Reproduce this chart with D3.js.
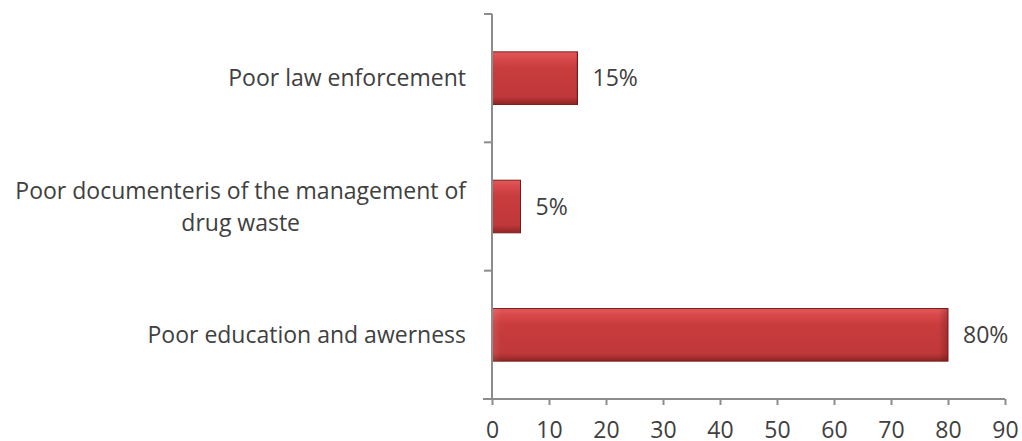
<!DOCTYPE html>
<html>
<head>
<meta charset="utf-8">
<script src="https://cdn.jsdelivr.net/npm/d3@7"></script>
<style>
  html, body { margin: 0; padding: 0; background: #fff; }
  svg { display: block; }
  text { font-family: "Open Sans", "Lato", sans-serif; fill: #404040; }
</style>
</head>
<body>
<svg id="chart" width="1022" height="441"></svg>
<script>
// Causes of poor drug-waste management (percent of responses)
const categories = [
  ["Poor law enforcement"],
  ["Poor documenteris of the management of", "drug waste"],
  ["Poor education and awerness"]
];
const values = [15, 5, 80];
const valueLabels = ["15%", "5%", "80%"];
const xTicks = [0, 10, 20, 30, 40, 50, 60, 70, 80, 90];

const svg = d3.select("#chart");
const plotLeft = 492, plotRight = 1005, plotTop = 14, plotBottom = 399;
const fontSize = 23;

const x = d3.scaleLinear().domain([0, 90]).range([plotLeft, plotRight]);
const y = d3.scaleBand().domain(d3.range(categories.length)).range([plotTop, plotBottom])
  .paddingInner(0.59).paddingOuter(0.295);

// Bar shading: darker edges with a lighter band near the top
const defs = svg.append("defs");
const grad = defs.append("linearGradient").attr("id", "barFill")
  .attr("x1", 0).attr("y1", 0).attr("x2", 0).attr("y2", 1);
[[0, "#e25a5a"], [0.12, "#d9494b"], [0.3, "#c93c3e"], [0.85, "#c0383a"], [1, "#8e2526"]]
  .forEach(([o, c]) => grad.append("stop").attr("offset", o).attr("stop-color", c));
const gradH = defs.append("linearGradient").attr("id", "barEdge")
  .attr("x1", 0).attr("y1", 0).attr("x2", 1).attr("y2", 0);
[[0, "rgba(255,255,255,0.10)"], [0.02, "rgba(255,255,255,0)"], [0.98, "rgba(0,0,0,0)"], [1, "rgba(80,0,0,0.25)"]]
  .forEach(([o, c]) => gradH.append("stop").attr("offset", o).attr("stop-color", c));

const bars = svg.append("g");
bars.selectAll("rect.bar").data(values).join("rect")
  .attr("class", "bar")
  .attr("x", x(0))
  .attr("y", (d, i) => y(i))
  .attr("width", d => x(d) - x(0))
  .attr("height", y.bandwidth())
  .attr("fill", "url(#barFill)")
  .attr("stroke", "#7a1e1e")
  .attr("stroke-width", 1);
bars.selectAll("rect.edge").data(values).join("rect")
  .attr("class", "edge")
  .attr("x", x(0))
  .attr("y", (d, i) => y(i))
  .attr("width", d => x(d) - x(0))
  .attr("height", y.bandwidth())
  .attr("fill", "url(#barEdge)");

// Value labels
svg.append("g").selectAll("text").data(values).join("text")
  .attr("x", d => x(d) + 15)
  .attr("y", (d, i) => y(i) + y.bandwidth() / 2)
  .attr("dy", "0.35em")
  .attr("font-size", fontSize)
  .text((d, i) => valueLabels[i]);

// Axes
const axisColor = "#8c8c8c";
const xAxis = svg.append("g").attr("transform", `translate(0,${plotBottom})`)
  .call(d3.axisBottom(x).tickValues(xTicks).tickSize(6).tickPadding(17).tickSizeOuter(0));
xAxis.select(".domain").attr("d", `M${plotLeft - 9},0H${plotRight}`);
const yAxis = svg.append("g").attr("transform", `translate(${plotLeft},0)`)
  .call(d3.axisLeft(y).tickValues([]).tickSizeOuter(0));
yAxis.select(".domain").attr("d", `M0,${plotTop}V${plotBottom}`);
// category separator ticks
const sepY = d3.range(categories.length).map(i => y(i) - y.step() * y.paddingInner() / 2);
sepY[0] = plotTop;
yAxis.selectAll("line.sep").data(sepY).join("line").attr("class", "sep")
  .attr("x1", -8).attr("x2", 0).attr("y1", d => d).attr("y2", d => d);

[xAxis, yAxis].forEach(g => {
  g.selectAll(".domain, line").attr("stroke", axisColor).attr("stroke-width", 2);
  g.selectAll("text").attr("font-size", fontSize).attr("fill", "#404040")
    .attr("font-family", null);
});

// Category labels (right aligned, multi-line centred)
const catG = svg.append("g");
categories.forEach((lines, i) => {
  const cy = y(i) + y.bandwidth() / 2;
  const lh = 32;
  const t = catG.append("text").attr("font-size", fontSize).attr("text-anchor", "end")
    .attr("x", plotLeft - 26);
  lines.forEach((ln, k) => {
    t.append("tspan").attr("x", plotLeft - 26)
      .attr("y", cy + (k - (lines.length - 1) / 2) * lh)
      .attr("dy", "0.35em").text(ln);
  });
  if (lines.length > 1) {
    // centre shorter lines under the widest one
    const spans = t.selectAll("tspan").nodes();
    const widths = spans.map(s => s.getComputedTextLength());
    const w = d3.max(widths);
    spans.forEach((s, k) => {
      d3.select(s).attr("x", plotLeft - 26 - (w - widths[k]) / 2);
    });
  }
});
</script>
</body>
</html>
